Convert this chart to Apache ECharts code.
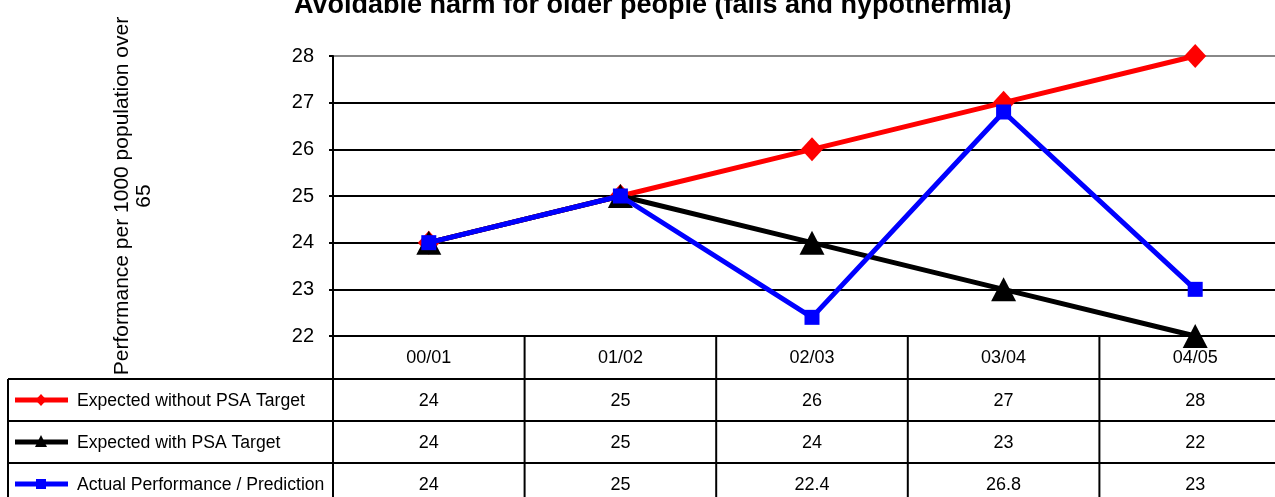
<!DOCTYPE html>
<html>
<head>
<meta charset="utf-8">
<script src="https://cdn.jsdelivr.net/npm/echarts@6/dist/echarts.min.js"></script>
<style>
  html, body { margin: 0; padding: 0; background: #fff; overflow: hidden; }
  /* 原图右侧被裁切，容器比窗口宽一点 */
  #main { width: 1300px; height: 497px; }
</style>
</head>
<body>
<div id="main"></div>
<script>
// 年度分类
const years = ["00/01", "01/02", "02/03", "03/04", "04/05"];
// 三条序列
const expectedWithout = [24, 25, 26, 27, 28];
const expectedWith = [24, 25, 24, 23, 22];
const actual = [24, 25, 22.4, 26.8, 23];
const seriesNames = [
  "Expected without PSA Target",
  "Expected with PSA Target",
  "Actual Performance / Prediction"
];
const yTicks = [22, 23, 24, 25, 26, 27, 28];

const FONT = "Liberation Sans, Arial, sans-serif";
const colors = ["#ff0000", "#000000", "#0000ff"];
const symbols = ["diamond", "triangle", "rect"];
const symbolSizes = [[22, 24], [25, 24], [15, 15]];
const tableRows = [expectedWithout, expectedWith, actual];

const chart = echarts.init(document.getElementById("main"));

const option = {
  animation: false,
  backgroundColor: "#fff",
  title: {
    text: "Avoidable harm for older people (falls and hypothermia)",
    left: 289,
    top: -13,
    textStyle: { fontFamily: FONT, fontSize: 27, fontWeight: "bold", color: "#000" }
  },
  grid: { left: 333, top: 56, width: 958, height: 280 },
  xAxis: {
    type: "category",
    data: years,
    boundaryGap: true,
    axisLine: { lineStyle: { color: "#000", width: 2 } },
    axisTick: { show: false },
    axisLabel: { margin: 13, fontFamily: FONT, fontSize: 18, color: "#000" }
  },
  yAxis: {
    type: "value",
    min: yTicks[0],
    max: yTicks[yTicks.length - 1],
    interval: 1,
    name: "Performance per 1000 population over\n65",
    nameLocation: "middle",
    nameGap: 178,
    nameTextStyle: { fontFamily: FONT, fontSize: 21, color: "#000", lineHeight: 22 },
    axisLine: { show: true, lineStyle: { color: "#000", width: 2 } },
    axisTick: { show: true, length: 4, lineStyle: { color: "#000", width: 2 } },
    axisLabel: { margin: 19, fontFamily: FONT, fontSize: 20, color: "#000" },
    splitLine: {
      show: true,
      lineStyle: { color: ["#000", "#000", "#000", "#000", "#000", "#000", "#888"], width: 2 }
    }
  },
  series: tableRows.map((d, i) => ({
    name: seriesNames[i],
    type: "line",
    data: d,
    symbol: symbols[i],
    symbolSize: symbolSizes[i],
    showAllSymbol: true,
    lineStyle: { color: colors[i], width: 5 },
    itemStyle: { color: colors[i] },
    z: 3 + i
  }))
};

chart.setOption(option);

// 数据表格（图下方）
function buildTable() {
  const ROW_H = 42;
  const top0 = 336;      // 横轴位置
  const headBottom = 379;
  const tableLeft = 8;
  const colW = chart.convertToPixel({ xAxisIndex: 0 }, 1) - chart.convertToPixel({ xAxisIndex: 0 }, 0);
  const els = [];
  const line = (x1, y1, x2, y2) => els.push({
    type: "line",
    shape: { x1, y1, x2, y2 },
    style: { stroke: "#000", lineWidth: 2 },
    z: 10
  });
  const bottom = 520;
  // 竖线
  line(tableLeft, headBottom, tableLeft, bottom);
  line(333, top0, 333, bottom);
  for (let c = 1; c < years.length; c++) {
    const x = chart.convertToPixel({ xAxisIndex: 0 }, c) - colW / 2;
    line(x, top0, x, bottom);
  }
  // 横线
  for (let r = 0; r <= tableRows.length; r++) {
    const y = headBottom + r * ROW_H;
    line(tableLeft, y, 1300, y);
  }
  // 行内容
  tableRows.forEach((row, r) => {
    const cy = headBottom + r * ROW_H + ROW_H / 2;
    // 图例
    els.push({
      type: "line",
      shape: { x1: 15, y1: cy, x2: 68, y2: cy },
      style: { stroke: colors[r], lineWidth: 5 },
      z: 11
    });
    const mx = 41;
    if (symbols[r] === "diamond") {
      els.push({ type: "polygon", shape: { points: [[mx, cy - 6], [mx + 5.5, cy], [mx, cy + 6], [mx - 5.5, cy]] }, style: { fill: colors[r] }, z: 12 });
    } else if (symbols[r] === "triangle") {
      els.push({ type: "polygon", shape: { points: [[mx, cy - 7], [mx + 6, cy + 5], [mx - 6, cy + 5]] }, style: { fill: colors[r] }, z: 12 });
    } else {
      els.push({ type: "rect", shape: { x: mx - 5, y: cy - 5, width: 10, height: 10 }, style: { fill: colors[r] }, z: 12 });
    }
    els.push({
      type: "text",
      x: 77, y: cy + 1,
      style: { text: seriesNames[r], font: "17.6px " + FONT, fill: "#000", verticalAlign: "middle", align: "left" },
      z: 12
    });
    row.forEach((v, c) => {
      const x = chart.convertToPixel({ xAxisIndex: 0 }, c);
      els.push({
        type: "text",
        x: x, y: cy + 1,
        style: { text: String(v), font: "18px " + FONT, fill: "#000", verticalAlign: "middle", align: "center" },
        z: 12
      });
    });
  });
  chart.setOption({ graphic: { elements: els } });
}
buildTable();
</script>
</body>
</html>
